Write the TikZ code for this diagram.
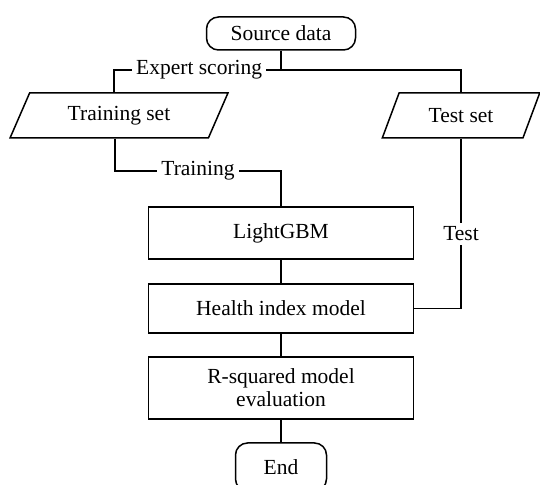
\documentclass[tikz,border=0pt]{standalone}
\usepackage{fontspec}
\setmainfont{Liberation Serif}
\usetikzlibrary{shapes.geometric}
\begin{document}
\begin{tikzpicture}[x=.5pt,y=-.5pt,line width=.75pt,
  font=\fontsize{10.75}{11.5}\selectfont,
  box/.style={draw,rectangle,minimum width=132.5pt,align=center,inner sep=1pt},
  term/.style={draw,rectangle,rounded corners=6pt,inner sep=1pt},
  io/.style={draw,trapezium,trapezium left angle=63,trapezium right angle=117,
    trapezium stretches=true,minimum height=22.5pt,inner sep=1pt},
  lbl/.style={fill=white,inner sep=2pt}]
\useasboundingbox (0,0) rectangle (540,485);
%%%%
\node[term,minimum width=74.5pt,minimum height=16.5pt] (src) at (281,33.5) {Source data};
\node[io,minimum width=109pt] (train) at (119,115.5) {Training set};
\node[io,minimum width=79pt] (test) at (461,115.5) {Test set};
\node[box,minimum height=26pt] (lgbm) at (281,233) {LightGBM};
\node[box,minimum height=24.5pt] (health) at (281,308.5) {Health index model};
\node[box,minimum height=31pt] (rsq) at (281,388) {R-squared model\\evaluation};
\node[term,minimum width=45.5pt,minimum height=24pt] (end) at (281,467) {End};
%%%%
\coordinate (split) at (src.south |- 0,70);
\coordinate (tbend) at ([xshift=-2pt]train.south |- 0,171);
\draw (src.south) -- (split) -| (test.north);
\draw (split) -| node[lbl,pos=.245] {Expert scoring} ([xshift=-2.5pt]train.north);
\draw ([xshift=-2pt]train.south) -- (tbend) -- node[lbl] {Training} (tbend -| lgbm.north) -- (lgbm.north);
\draw (lgbm) -- (health);
\draw (health.east) -| node[lbl,pos=.72] {Test} (test.south);
\draw (health) -- (rsq);
\draw (rsq) -- (end);
\end{tikzpicture}
\end{document}
